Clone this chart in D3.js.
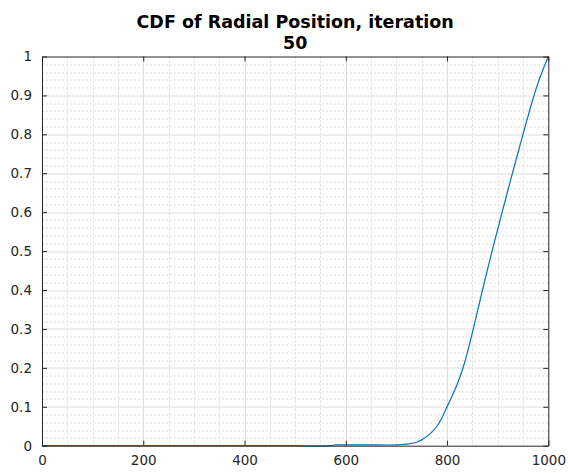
<!DOCTYPE html>
<html>
<head>
<meta charset="utf-8">
<script src="https://cdn.jsdelivr.net/npm/d3@7"></script>
<style>
  html, body { margin: 0; padding: 0; background: #fff; }
  svg { display: block; font-family: "DejaVu Sans", sans-serif; }
</style>
</head>
<body>
<svg id="chart" width="568" height="473"></svg>
<script>
// Radial position samples and the cumulative fraction at each one
const radius = [0, 100, 200, 300, 400, 500, 570, 580, 600, 650, 700, 710, 720, 730, 740, 750, 760, 770, 780, 790,
                800, 810, 820, 830, 840, 850, 860, 870, 880, 890, 900, 910, 920, 930, 940, 950, 960, 970, 980, 990, 1000];
const cdf = [0, 0, 0, 0, 0, 0, 0, 0.002, 0.002, 0.002, 0.002, 0.003, 0.004, 0.006, 0.009, 0.015, 0.024, 0.035, 0.050, 0.072,
             0.100, 0.128, 0.158, 0.194, 0.238, 0.290, 0.345, 0.400, 0.453, 0.505, 0.556, 0.606, 0.655, 0.704, 0.752, 0.800, 0.847, 0.892, 0.933, 0.968, 1.0];

const xTicks = [0, 200, 400, 600, 800, 1000];
const yTicks = [0, 0.1, 0.2, 0.3, 0.4, 0.5, 0.6, 0.7, 0.8, 0.9, 1];
const xMinor = d3.range(0, 1001, 50);
const yMinor = d3.range(0, 51).map(i => i * 0.02);

const titleLines = ["CDF of Radial Position, iteration", "50"];

const margin = { left: 42, top: 56.5, right: 19.7, bottom: 27.3 };
const W = 568, H = 473;
const iw = W - margin.left - margin.right;
const ih = H - margin.top - margin.bottom;

const svg = d3.select("#chart");
const g = svg.append("g").attr("transform", `translate(${margin.left},${margin.top})`);

const x = d3.scaleLinear().domain([0, 1000]).range([0, iw]);
const y = d3.scaleLinear().domain([0, 1]).range([ih, 0]);

// minor grid (dotted)
const minor = g.append("g").attr("class", "minor-grid");
minor.selectAll("line.mx").data(xMinor.filter(v => v % 200 !== 0)).join("line")
  .attr("x1", d => Math.round(x(d)) + 0.5).attr("x2", d => Math.round(x(d)) + 0.5)
  .attr("y1", 0).attr("y2", ih)
  .attr("stroke", "#dcdcdc").attr("stroke-width", 1).attr("stroke-dasharray", "2,2");
minor.selectAll("line.my").data(yMinor.filter((v, i) => i % 5 !== 0)).join("line")
  .attr("y1", d => Math.round(y(d)) + 0.5).attr("y2", d => Math.round(y(d)) + 0.5)
  .attr("x1", 0).attr("x2", iw)
  .attr("stroke", "#dcdcdc").attr("stroke-width", 1).attr("stroke-dasharray", "2,2");

// major grid
const major = g.append("g").attr("class", "major-grid");
major.selectAll("line.gx").data(xTicks.slice(1, -1)).join("line")
  .attr("x1", d => Math.round(x(d)) + 0.5).attr("x2", d => Math.round(x(d)) + 0.5)
  .attr("y1", 0).attr("y2", ih)
  .attr("stroke", "#dedede").attr("stroke-width", 1);
major.selectAll("line.gy").data(yTicks.slice(1, -1)).join("line")
  .attr("y1", d => Math.round(y(d)) + 0.5).attr("y2", d => Math.round(y(d)) + 0.5)
  .attr("x1", 0).attr("x2", iw)
  .attr("stroke", "#dedede").attr("stroke-width", 1);

// CDF curve
const line = d3.line()
  .x((d, i) => x(radius[i]))
  .y(d => y(d))
  .curve(d3.curveCatmullRom.alpha(0.5));
g.append("path")
  .datum(cdf)
  .attr("d", line)
  .attr("fill", "none")
  .attr("stroke", "#0072BD")
  .attr("stroke-width", 1.2);

// axes with inward ticks on all four sides
const axisColor = "#262626";
function styleAxis(sel) {
  sel.select(".domain").attr("stroke", axisColor).attr("stroke-width", 1);
  sel.selectAll(".tick line").attr("stroke", axisColor).attr("stroke-width", 1);
  sel.selectAll(".tick text").attr("fill", axisColor).style("font-size", "13.5px")
    .style("font-family", "'DejaVu Sans', sans-serif");
}

const xAxis = g.append("g").attr("transform", `translate(0,${ih})`)
  .call(d3.axisBottom(x).tickValues(xTicks).tickFormat(d3.format("d")).tickSizeInner(-5).tickSizeOuter(0).tickPadding(10));
styleAxis(xAxis);

const xAxisTop = g.append("g")
  .call(d3.axisTop(x).tickValues(xTicks).tickFormat("").tickSizeInner(-5).tickSizeOuter(0));
styleAxis(xAxisTop);

const yAxis = g.append("g")
  .call(d3.axisLeft(y).tickValues(yTicks).tickFormat(d => d3.format("")(+d.toFixed(1))).tickSizeInner(-5).tickSizeOuter(0).tickPadding(10));
styleAxis(yAxis);

const yAxisRight = g.append("g").attr("transform", `translate(${iw},0)`)
  .call(d3.axisRight(y).tickValues(yTicks).tickFormat("").tickSizeInner(-5).tickSizeOuter(0));
styleAxis(yAxisRight);

// title
const title = svg.append("text")
  .attr("x", margin.left + iw / 2)
  .attr("y", 27.7)
  .attr("text-anchor", "middle")
  .attr("fill", "#000")
  .style("font-weight", "bold")
  .style("font-size", "17.5px");
title.selectAll("tspan").data(titleLines).join("tspan")
  .attr("x", margin.left + iw / 2)
  .attr("dy", (d, i) => i === 0 ? 0 : 21.3)
  .text(d => d);
</script>
</body>
</html>
